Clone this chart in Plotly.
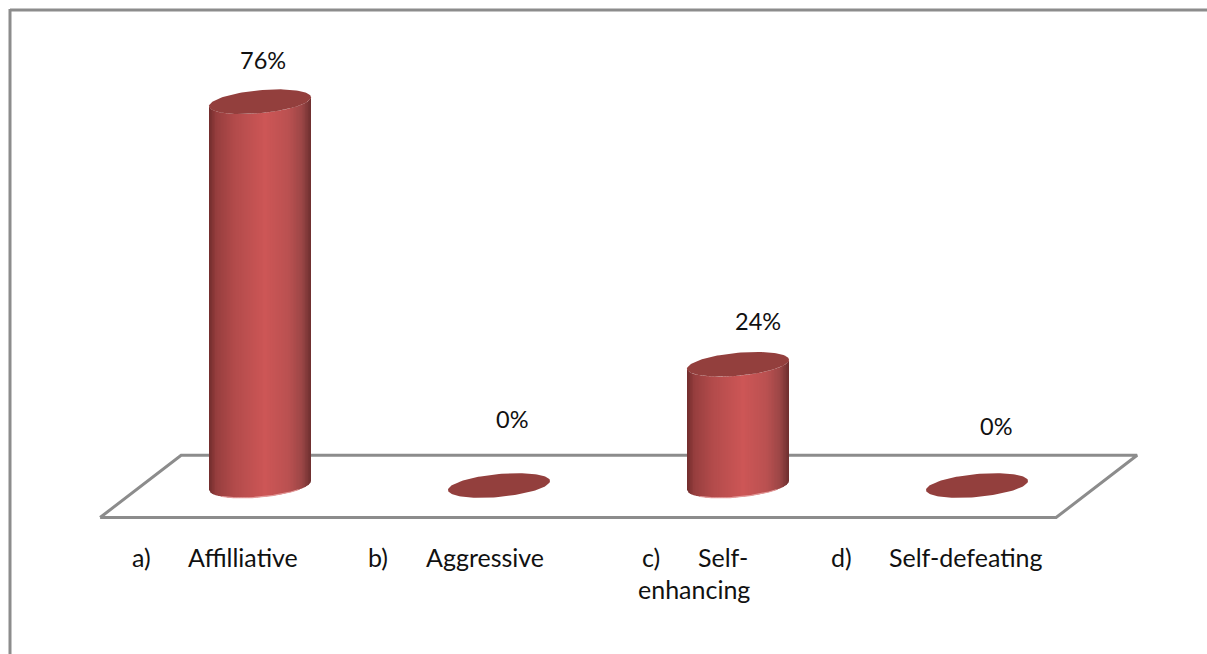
import math
import plotly.graph_objects as go

# Chart data
categories = ["Affilliative", "Aggressive", "Self-enhancing", "Self-defeating"]
markers = ["a)", "b)", "c)", "d)"]
values = [76, 0, 24, 0]

WIDTH, HEIGHT = 1207, 654
FONT = "Lato"
TEXT = "#111111"
GREY = "#8c8c8c"
TOP_FILL = "#933f3d"

# Scale: one category step is 239 px, one percent is 5.05 px
X_STEP, Y_STEP = 239.0, 5.05
X0_PX, Y0_PX = 260.0, 485.5
x_range = [-X0_PX / X_STEP, (WIDTH - X0_PX) / X_STEP]
y_range = [(Y0_PX - HEIGHT) / Y_STEP, Y0_PX / Y_STEP]

# Cylinder cross-section, in axis units
RX = 51 / X_STEP
RY = 11.5 / Y_STEP
TILT = 4.5 / Y_STEP

# Left-to-right shading of the cylinder wall
SHADE = [
    (0.00, (112, 44, 44)),
    (0.07, (150, 62, 62)),
    (0.25, (178, 75, 75)),
    (0.55, (205, 86, 86)),
    (0.78, (186, 81, 81)),
    (0.91, (156, 70, 70)),
    (1.00, (108, 46, 46)),
]


def shade(t):
    for (t0, c0), (t1, c1) in zip(SHADE, SHADE[1:]):
        if t <= t1:
            f = (t - t0) / (t1 - t0)
            r, g, b = (round(a + (b_ - a) * f) for a, b_ in zip(c0, c1))
            return f"rgb({r},{g},{b})"
    return "rgb(108,46,46)"


def lower_edge(c):
    """Offset of the ellipse's front edge at normalised position c in [-1, 1]."""
    return TILT * c - RY * math.sqrt(max(0.0, 1 - c * c))


fig = go.Figure()

# Floor of the 3-D plot
FLOOR_LEFT, FLOOR_RIGHT, FLOOR_DEPTH = -0.669, 3.331, 0.339
FLOOR_FRONT, FLOOR_BACK = -6.34, 5.99
fig.add_trace(go.Scatter(
    x=[FLOOR_LEFT, FLOOR_RIGHT, FLOOR_RIGHT + FLOOR_DEPTH, FLOOR_LEFT + FLOOR_DEPTH, FLOOR_LEFT],
    y=[FLOOR_FRONT, FLOOR_FRONT, FLOOR_BACK, FLOOR_BACK, FLOOR_FRONT],
    mode="lines", line=dict(color=GREY, width=3), fill="toself", fillcolor="white",
    hoverinfo="skip", showlegend=False,
))

# Cylinders
STRIPS = 68
for i, v in enumerate(values):
    if v > 0:
        for s in range(STRIPS):
            c0 = -1 + 2 * s / STRIPS
            c1 = min(1.0, -1 + 2 * (s + 1.6) / STRIPS)
            xs = [i + RX * c0, i + RX * c1, i + RX * c1, i + RX * c0, i + RX * c0]
            ys = [lower_edge(c0), lower_edge(c1), v + lower_edge(c1), v + lower_edge(c0), lower_edge(c0)]
            fig.add_trace(go.Scatter(
                x=xs, y=ys, mode="lines", line=dict(width=0), fill="toself",
                fillcolor=shade((s + 0.5) / STRIPS), hoverinfo="skip", showlegend=False,
            ))
        # Pale rim along the base
        arc = [-0.75 + 1.5 * k / 40 for k in range(41)]
        fig.add_trace(go.Scatter(
            x=[i + RX * c for c in arc], y=[lower_edge(c) for c in arc], mode="lines",
            line=dict(color="#e39a9a", width=1.2), hoverinfo="skip", showlegend=False,
        ))
    # Top face; a zero value leaves only this ellipse on the floor
    angles = [2 * math.pi * k / 120 for k in range(121)]
    fig.add_trace(go.Scatter(
        x=[i + RX * math.cos(a) for a in angles],
        y=[v + TILT * math.cos(a) + RY * math.sin(a) for a in angles],
        mode="lines", line=dict(width=0), fill="toself", fillcolor=TOP_FILL,
        hovertemplate=f"{categories[i]}: {v}%<extra></extra>", showlegend=False,
    ))

# Value labels, placed beside each column's top
value_dx = [3, 13, 20, 19]
value_dy = [42, 67, 43, 60]
annotations = [
    dict(x=i, y=v, xref="x", yref="y", text=f"{v}%", showarrow=False,
         xshift=dx, yshift=dy, font=dict(family=FONT, size=23.5, color=TEXT))
    for i, (v, dx, dy) in enumerate(zip(values, value_dx, value_dy))
]

# Category labels below the floor
marker_px = [132, 368, 642, 831]
name_px = [188, 426, 698, 889]
name_lines = [["Affilliative"], ["Aggressive"], ["Self-", "enhancing"], ["Self-defeating"]]
wrap_px = [188, 426, 638, 889]
for mx, nx, wx, m, lines in zip(marker_px, name_px, wrap_px, markers, name_lines):
    placed = [(mx, 557, m)] + [(nx if n == 0 else wx, 557 + 32 * n, t) for n, t in enumerate(lines)]
    for px, py, t in placed:
        annotations.append(dict(
            x=px / WIDTH, y=1 - py / HEIGHT, xref="paper", yref="paper", text=t,
            showarrow=False, xanchor="left", yanchor="middle", xshift=-2,
            font=dict(family=FONT, size=25, color=TEXT),
        ))

# Chart frame; its right and bottom sides run off the page
frame = [
    dict(type="line", xref="paper", yref="paper", x0=10 / WIDTH, x1=1, y0=1 - 10 / HEIGHT, y1=1 - 10 / HEIGHT,
         line=dict(color=GREY, width=3)),
    dict(type="line", xref="paper", yref="paper", x0=10 / WIDTH, x1=10 / WIDTH, y0=1 - 9 / HEIGHT, y1=0,
         line=dict(color=GREY, width=3)),
]

fig.update_layout(
    width=WIDTH, height=HEIGHT, margin=dict(l=0, r=0, t=0, b=0),
    paper_bgcolor="white", plot_bgcolor="white",
    xaxis=dict(range=x_range, visible=False, fixedrange=True),
    yaxis=dict(range=y_range, visible=False, fixedrange=True),
    annotations=annotations, shapes=frame, showlegend=False,
)

fig.write_html("out.html", config={"displayModeBar": False})
